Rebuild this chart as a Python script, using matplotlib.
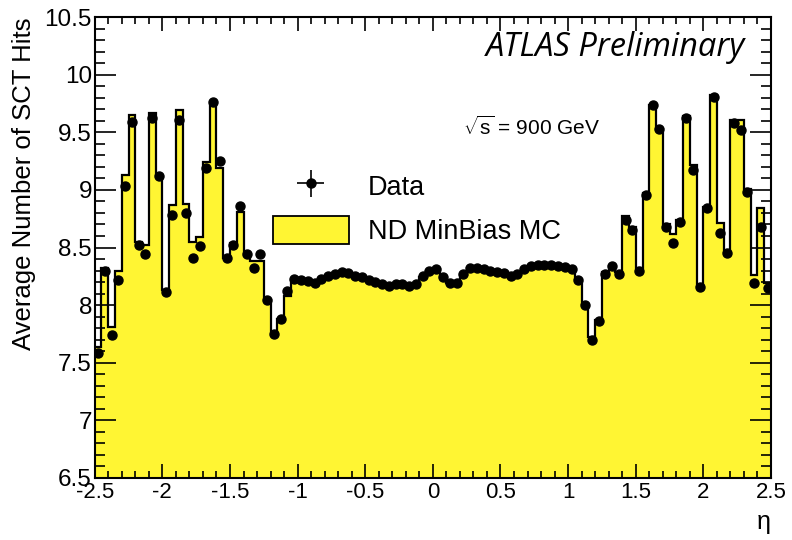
import matplotlib
matplotlib.use("Agg")
import matplotlib.pyplot as plt
import numpy as np

plt.rcParams['font.family'] = ['Liberation Sans', 'DejaVu Sans']
plt.rcParams['mathtext.fontset'] = 'custom'
plt.rcParams['mathtext.rm'] = 'Liberation Sans'

# 100 eta bins of width 0.05 between -2.5 and 2.5
eta_edges = np.linspace(-2.5, 2.5, 101)

data_hits = [
    7.58, 8.30, 7.74, 8.22, 9.03, 9.59, 8.52, 8.44, 9.62, 9.12,
    8.11, 8.78, 9.61, 8.80, 8.41, 8.51, 9.19, 9.76, 9.25, 8.41,
    8.52, 8.86, 8.44, 8.32, 8.44, 8.04, 7.75, 7.88, 8.12, 8.23,
    8.22, 8.21, 8.19, 8.23, 8.25, 8.27, 8.29, 8.28, 8.25, 8.24,
    8.22, 8.20, 8.18, 8.17, 8.18, 8.18, 8.17, 8.18, 8.25, 8.30,
    8.31, 8.24, 8.19, 8.19, 8.27, 8.32, 8.32, 8.31, 8.30, 8.29,
    8.28, 8.25, 8.27, 8.31, 8.34, 8.35, 8.35, 8.35, 8.34, 8.33,
    8.31, 8.22, 8.00, 7.70, 7.86, 8.27, 8.34, 8.27, 8.74, 8.65,
    8.30, 8.96, 9.74, 9.53, 8.68, 8.54, 8.72, 9.62, 9.17, 8.16,
    8.84, 9.81, 8.63, 8.45, 9.58, 9.52, 8.98, 8.19, 8.68, 8.15,
]

mc_hits = [
    7.64, 8.32, 7.81, 8.30, 9.13, 9.65, 8.55, 8.52, 9.67, 9.13,
    8.13, 8.87, 9.69, 8.88, 8.55, 8.59, 9.24, 9.74, 9.19, 8.41,
    8.54, 8.81, 8.43, 8.38, 8.38, 8.04, 7.77, 7.88, 8.08, 8.22,
    8.22, 8.21, 8.19, 8.22, 8.25, 8.27, 8.29, 8.28, 8.25, 8.24,
    8.22, 8.20, 8.18, 8.17, 8.18, 8.18, 8.17, 8.18, 8.24, 8.30,
    8.31, 8.24, 8.19, 8.19, 8.26, 8.32, 8.32, 8.31, 8.30, 8.29,
    8.28, 8.25, 8.27, 8.31, 8.34, 8.35, 8.35, 8.35, 8.34, 8.33,
    8.31, 8.23, 8.01, 7.72, 7.87, 8.29, 8.34, 8.29, 8.77, 8.68,
    8.32, 8.97, 9.74, 9.53, 8.70, 8.62, 8.74, 9.64, 9.22, 8.17,
    8.85, 9.82, 8.71, 8.46, 9.61, 9.61, 9.01, 8.26, 8.84, 8.19,
]

eta_centers = 0.5 * (eta_edges[:-1] + eta_edges[1:])
half_width = 0.5 * np.diff(eta_edges)

fig = plt.figure(figsize=(7.92, 5.4), dpi=100)
ax = fig.add_axes([0.1196, 0.115, 0.8539, 0.8533])

yellow = '#fff533'
ax.stairs(mc_hits, eta_edges, fill=True, color=yellow, baseline=0, zorder=1)
ax.stairs(mc_hits, eta_edges, color='black', lw=1.6, baseline=None, zorder=2)
mc_patch = plt.Rectangle((0, 0), 1, 1, facecolor=yellow, edgecolor='black', lw=1.3)

data_plot = ax.errorbar(eta_centers, data_hits, xerr=half_width, yerr=0.01,
                        fmt='o', color='black', ms=6.5, lw=1.2, capsize=0, zorder=3)

ax.set_xlim(-2.5, 2.5)
ax.set_ylim(6.5, 10.5)
ax.set_xticks(np.arange(-2.5, 2.51, 0.5))
ax.set_xticklabels(['-2.5', '-2', '-1.5', '-1', '-0.5', '0', '0.5', '1', '1.5', '2', '2.5'])
ax.set_xticks(np.arange(-2.5, 2.51, 0.1), minor=True)
ax.set_yticks(np.arange(6.5, 10.51, 0.5))
ax.set_yticklabels(['6.5', '7', '7.5', '8', '8.5', '9', '9.5', '10', '10.5'])
ax.set_yticks(np.arange(6.5, 10.51, 0.1), minor=True)

ax.tick_params(which='both', direction='in', top=True, right=True, width=1.2)
ax.tick_params(axis='x', which='major', length=10, labelsize=16, pad=3)
ax.tick_params(axis='x', which='minor', length=5)
ax.tick_params(axis='y', which='major', length=15, labelsize=17.5, pad=2)
ax.tick_params(axis='y', which='minor', length=7.5)
for sp in ax.spines.values():
    sp.set_linewidth(1.5)

ax.set_xlabel('η', loc='right', fontsize=18, labelpad=5)
ax.set_ylabel('Average Number of SCT Hits', loc='top', fontsize=18.5, labelpad=6)

ax.legend([data_plot, mc_patch], ['Data', 'ND MinBias MC'], loc='upper left',
          bbox_to_anchor=(0.2636, 0.664), frameon=False, fontsize=19.5,
          borderpad=0, borderaxespad=0, handlelength=2.8, handleheight=1.2,
          handletextpad=0.7, labelspacing=0.55)

ax.text(0.5446, 0.7615, r'$\sqrt{\mathrm{s}}$ = 900 GeV', transform=ax.transAxes,
        fontsize=15, ha='left', va='center')
ax.text(0.9614, 0.933, 'ATLAS Preliminary', transform=ax.transAxes,
        fontsize=23.5, family='Open Sans', style='italic', ha='right', va='center')

fig.savefig('out.png', dpi=100)
